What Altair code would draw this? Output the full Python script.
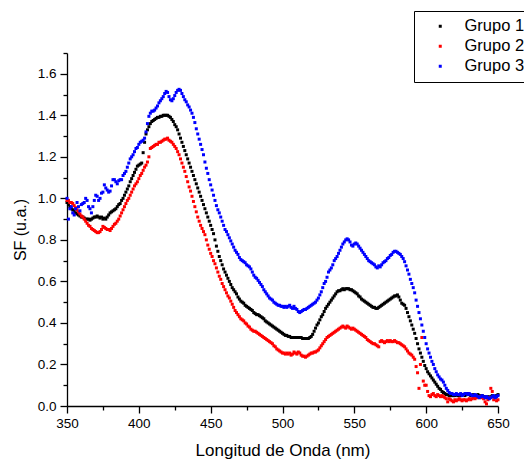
import altair as alt
import pandas as pd

# wavelengths 350..650 nm, 1 nm step
wavelength = list(range(350, 651))

grupo1 = [
    0.98, 0.97, 0.96, 0.95, 0.945, 0.94, 0.93, 0.925, 0.92, 0.915, 0.91,
    0.91, 0.905, 0.90, 0.90, 0.90, 0.895, 0.90, 0.905, 0.91, 0.91,
    0.915, 0.91, 0.905, 0.91, 0.90, 0.905, 0.90, 0.91, 0.92, 0.93,
    0.935, 0.94, 0.945, 0.95, 0.96, 0.97, 0.975, 0.99, 1.00, 1.015,
    1.03, 1.045, 1.06, 1.08, 1.095, 1.11, 1.125, 1.14, 1.155, 1.16,
    1.165, 1.17, 1.22, 1.27, 1.31, 1.33, 1.345, 1.36, 1.37, 1.375,
    1.38, 1.385, 1.39, 1.39, 1.395, 1.395, 1.40, 1.40, 1.40, 1.40,
    1.395, 1.39, 1.38, 1.37, 1.355, 1.345, 1.33, 1.31, 1.29, 1.27,
    1.25, 1.23, 1.21, 1.19, 1.17, 1.15, 1.13, 1.11, 1.09, 1.07,
    1.05, 1.03, 1.01, 0.99, 0.97, 0.95, 0.93, 0.91, 0.89, 0.87,
    0.85, 0.83, 0.80, 0.77, 0.745, 0.72, 0.70, 0.68, 0.66, 0.645,
    0.63, 0.615, 0.60, 0.585, 0.57, 0.56, 0.55, 0.54, 0.525, 0.515,
    0.505, 0.50, 0.495, 0.485, 0.48, 0.475, 0.47, 0.465, 0.46, 0.45,
    0.445, 0.44, 0.44, 0.435, 0.43, 0.425, 0.42, 0.41, 0.405, 0.40,
    0.395, 0.39, 0.385, 0.38, 0.375, 0.37, 0.365, 0.36, 0.355, 0.35,
    0.345, 0.34, 0.34, 0.335, 0.335, 0.33, 0.33, 0.33, 0.33, 0.33,
    0.33, 0.33, 0.33, 0.325, 0.325, 0.325, 0.325, 0.325, 0.33, 0.335,
    0.345, 0.36, 0.375, 0.39, 0.40, 0.415, 0.43, 0.44, 0.455, 0.47,
    0.48, 0.49, 0.50, 0.51, 0.52, 0.53, 0.54, 0.55, 0.555, 0.555,
    0.56, 0.565, 0.56, 0.565, 0.565, 0.565, 0.56, 0.56, 0.555, 0.55,
    0.545, 0.54, 0.53, 0.525, 0.515, 0.51, 0.505, 0.50, 0.495, 0.49,
    0.485, 0.48, 0.475, 0.475, 0.47, 0.47, 0.475, 0.48, 0.485, 0.49,
    0.495, 0.50, 0.505, 0.51, 0.515, 0.52, 0.525, 0.53, 0.53, 0.535,
    0.525, 0.51, 0.495, 0.49, 0.485, 0.47, 0.45, 0.43, 0.41, 0.39,
    0.37, 0.35, 0.325, 0.30, 0.275, 0.255, 0.235, 0.215, 0.195, 0.18,
    0.165, 0.155, 0.145, 0.135, 0.125, 0.115, 0.105, 0.095, 0.085, 0.08,
    0.07, 0.065, 0.06, 0.055, 0.055, 0.05, 0.05, 0.05, 0.05, 0.05,
    0.055, 0.05, 0.055, 0.05, 0.055, 0.055, 0.05, 0.055, 0.06, 0.055,
    0.05, 0.05, 0.055, 0.05, 0.05, 0.055, 0.05, 0.045, 0.05, 0.045,
    0.045, 0.04, 0.045, 0.04, 0.045, 0.05, 0.045, 0.04, 0.05, 0.055,
]

grupo2 = [
    0.99, 0.99, 0.98, 0.98, 0.975, 0.965, 0.955, 0.945, 0.935, 0.925, 0.915,
    0.91, 0.90, 0.89, 0.88, 0.87, 0.865, 0.855, 0.85, 0.845, 0.84,
    0.835, 0.835, 0.84, 0.85, 0.865, 0.86, 0.855, 0.85, 0.85, 0.845,
    0.855, 0.865, 0.875, 0.88, 0.89, 0.90, 0.915, 0.93, 0.945, 0.96,
    0.975, 0.99, 1.00, 1.015, 1.03, 1.045, 1.06, 1.07, 1.08, 1.095,
    1.11, 1.12, 1.135, 1.15, 1.16, 1.175, 1.20, 1.24, 1.245, 1.25,
    1.255, 1.26, 1.26, 1.27, 1.27, 1.275, 1.28, 1.285, 1.285, 1.29,
    1.28, 1.275, 1.27, 1.26, 1.25, 1.24, 1.225, 1.21, 1.19, 1.17,
    1.15, 1.13, 1.105, 1.08, 1.055, 1.035, 1.01, 0.985, 0.96, 0.935,
    0.91, 0.89, 0.87, 0.855, 0.84, 0.825, 0.80, 0.775, 0.755, 0.735,
    0.72, 0.70, 0.685, 0.665, 0.645, 0.625, 0.61, 0.59, 0.575, 0.56,
    0.545, 0.53, 0.52, 0.505, 0.49, 0.475, 0.46, 0.45, 0.44, 0.43,
    0.42, 0.415, 0.41, 0.40, 0.395, 0.385, 0.38, 0.37, 0.365, 0.36,
    0.36, 0.355, 0.35, 0.345, 0.34, 0.335, 0.33, 0.325, 0.32, 0.315,
    0.31, 0.305, 0.30, 0.29, 0.285, 0.275, 0.27, 0.265, 0.26, 0.255,
    0.255, 0.25, 0.255, 0.25, 0.255, 0.245, 0.25, 0.26, 0.255, 0.25,
    0.26, 0.255, 0.245, 0.24, 0.24, 0.235, 0.24, 0.245, 0.25, 0.255,
    0.255, 0.26, 0.26, 0.265, 0.27, 0.28, 0.29, 0.30, 0.31, 0.32,
    0.33, 0.335, 0.34, 0.345, 0.35, 0.355, 0.36, 0.365, 0.37, 0.375,
    0.38, 0.385, 0.38, 0.375, 0.385, 0.38, 0.375, 0.37, 0.375, 0.37,
    0.365, 0.36, 0.355, 0.35, 0.345, 0.34, 0.335, 0.33, 0.32, 0.315,
    0.31, 0.305, 0.30, 0.30, 0.295, 0.29, 0.285, 0.31, 0.315, 0.31,
    0.305, 0.31, 0.315, 0.31, 0.315, 0.31, 0.31, 0.315, 0.31, 0.305,
    0.305, 0.30, 0.295, 0.29, 0.285, 0.275, 0.265, 0.255, 0.25, 0.245,
    0.235, 0.225, 0.19, 0.16, 0.085, 0.20, 0.33, 0.12, 0.10, 0.10,
    0.07, 0.05, 0.045, 0.055, 0.06, 0.05, 0.045, 0.055, 0.05, 0.045,
    0.05, 0.045, 0.04, 0.035, 0.02, 0.035, 0.03, 0.025, 0.02, 0.03,
    0.025, 0.03, 0.035, 0.03, 0.025, 0.03, 0.03, 0.025, 0.03, 0.035,
    0.03, 0.035, 0.04, 0.035, 0.04, 0.045, 0.04, 0.045, 0.04, 0.035,
    0.02, 0.01, 0.03, 0.04, 0.085, 0.07, 0.03, 0.04, 0.025, 0.03,
]

grupo3 = [
    1.00, 0.90, 0.95, 0.96, 0.93, 0.92, 0.95, 0.98, 0.96, 0.94, 0.97,
    0.975, 0.98, 1.00, 0.99, 0.96, 0.95, 0.93, 0.96, 0.99, 1.015,
    1.01, 0.99, 1.00, 1.025, 1.03, 1.065, 1.05, 1.04, 1.03, 1.035,
    1.06, 1.09, 1.09, 1.08, 1.07, 1.085, 1.09, 1.09, 1.11, 1.12,
    1.13, 1.15, 1.17, 1.19, 1.20, 1.21, 1.225, 1.24, 1.245, 1.26,
    1.27, 1.275, 1.28, 1.29, 1.32, 1.36, 1.395, 1.41, 1.42, 1.42,
    1.425, 1.435, 1.445, 1.46, 1.47, 1.48, 1.49, 1.505, 1.515, 1.51,
    1.49, 1.475, 1.47, 1.48, 1.495, 1.51, 1.52, 1.525, 1.52, 1.505,
    1.49, 1.475, 1.465, 1.45, 1.44, 1.425, 1.41, 1.39, 1.365, 1.335,
    1.31, 1.285, 1.26, 1.235, 1.21, 1.175, 1.145, 1.12, 1.09, 1.065,
    1.04, 1.015, 0.99, 0.965, 0.945, 0.93, 0.91, 0.89, 0.87, 0.85,
    0.84, 0.825, 0.81, 0.795, 0.78, 0.765, 0.75, 0.74, 0.73, 0.715,
    0.705, 0.70, 0.695, 0.69, 0.68, 0.675, 0.67, 0.66, 0.645, 0.63,
    0.62, 0.615, 0.605, 0.595, 0.585, 0.575, 0.56, 0.55, 0.54, 0.53,
    0.52, 0.515, 0.51, 0.50, 0.495, 0.49, 0.485, 0.485, 0.48, 0.48,
    0.475, 0.48, 0.475, 0.48, 0.485, 0.475, 0.47, 0.48, 0.47, 0.465,
    0.455, 0.45, 0.455, 0.46, 0.465, 0.465, 0.47, 0.475, 0.48, 0.485,
    0.49, 0.495, 0.50, 0.51, 0.52, 0.535, 0.55, 0.57, 0.59, 0.60,
    0.62, 0.645, 0.655, 0.665, 0.68, 0.70, 0.71, 0.72, 0.735, 0.75,
    0.765, 0.78, 0.79, 0.80, 0.805, 0.80, 0.79, 0.775, 0.77, 0.78,
    0.785, 0.78, 0.77, 0.76, 0.75, 0.74, 0.73, 0.72, 0.71, 0.70,
    0.695, 0.69, 0.685, 0.68, 0.67, 0.665, 0.675, 0.67, 0.68, 0.69,
    0.695, 0.70, 0.71, 0.715, 0.725, 0.73, 0.74, 0.745, 0.745, 0.74,
    0.735, 0.73, 0.72, 0.71, 0.695, 0.675, 0.655, 0.635, 0.61, 0.59,
    0.57, 0.545, 0.51, 0.48, 0.45, 0.42, 0.39, 0.36, 0.33, 0.30,
    0.275, 0.255, 0.235, 0.215, 0.20, 0.18, 0.165, 0.15, 0.14, 0.13,
    0.125, 0.115, 0.10, 0.085, 0.075, 0.065, 0.06, 0.06, 0.055, 0.055,
    0.06, 0.055, 0.055, 0.06, 0.05, 0.055, 0.06, 0.06, 0.055, 0.06,
    0.055, 0.05, 0.05, 0.055, 0.05, 0.045, 0.04, 0.045, 0.05, 0.045,
    0.04, 0.045, 0.04, 0.035, 0.04, 0.045, 0.05, 0.04, 0.045, 0.05,
]

series_names = ["Grupo 1", "Grupo 2", "Grupo 3"]
series_colors = ["#000000", "#ff0000", "#0000ff"]

x_ticks = [350, 375, 400, 425, 450, 475, 500, 525, 550, 575, 600, 625, 650]
y_ticks = [0.0, 0.1, 0.2, 0.3, 0.4, 0.5, 0.6, 0.7, 0.8, 0.9, 1.0,
           1.1, 1.2, 1.3, 1.4, 1.5, 1.6, 1.7]

frames = []
for name, vals in zip(series_names, [grupo1, grupo2, grupo3]):
    assert len(vals) == len(wavelength), (name, len(vals))
    frames.append(pd.DataFrame({"nm": wavelength, "sf": vals, "grupo": name}))
df = pd.concat(frames, ignore_index=True)

FONT = "Liberation Sans"

x_axis = alt.Axis(
    values=x_ticks,
    title="Longitud de Onda (nm)",
    labelExpr="datum.value % 50 === 0 ? datum.label : ''",
    tickSize={"condition": {"test": "datum.value % 50 !== 0", "value": 4}, "value": 7},
    labelFlush=False,
    labelOverlap=False,
    grid=False,
    labelFontSize=13.5,
    titleFontSize=17,
    titleFontWeight="normal",
    titleBaseline="alphabetic",
    titleY=49,
    labelPadding=3,
    domainColor="black",
    tickColor="black",
    labelColor="black",
    titleColor="black",
    domainWidth=1.3,
    tickWidth=1.3,
)

y_axis = alt.Axis(
    values=y_ticks,
    title="SF (u.a.)",
    labelExpr="round(datum.value * 10) % 2 === 0 ? format(datum.value, '.1f') : ''",
    tickSize={"condition": {"test": "round(datum.value * 10) % 2 !== 0", "value": 4}, "value": 7},
    labelFlush=False,
    labelOverlap=False,
    grid=False,
    labelFontSize=13.5,
    titleFontSize=16,
    titleFontWeight="normal",
    titleBaseline="alphabetic",
    titleX=-42,
    labelPadding=4,
    domainColor="black",
    tickColor="black",
    labelColor="black",
    titleColor="black",
    domainWidth=1.3,
    tickWidth=1.3,
)

chart = (
    alt.Chart(df)
    .mark_square(size=9, opacity=1)
    .encode(
        x=alt.X("nm:Q", scale=alt.Scale(domain=[350, 650], nice=False, zero=False), axis=x_axis),
        y=alt.Y("sf:Q", scale=alt.Scale(domain=[0, 1.7], nice=False), axis=y_axis),
        color=alt.Color(
            "grupo:N",
            scale=alt.Scale(domain=series_names, range=series_colors),
            title=None,
            legend=alt.Legend(
                orient="none",
                legendX=347,
                legendY=-42,
                symbolType="square",
                symbolSize=9,
                symbolOffset=11,
                labelOffset=16,
                labelFontSize=16.5,
                labelColor="black",
                strokeColor="black",
                fillColor="white",
                padding=7,
                rowPadding=3,
            ),
        ),
        order=alt.Order("grupo:N"),
    )
    .properties(
        width=431,
        height=353,
        padding={"left": 59, "top": 45, "right": 26, "bottom": 54},
        autosize=alt.AutoSizeParams(type="none"),
        background="white",
    )
    .configure(font=FONT)
    .configure_view(strokeWidth=0)
)

chart.save("out.html", embed_options={"renderer": "svg", "actions": False})
